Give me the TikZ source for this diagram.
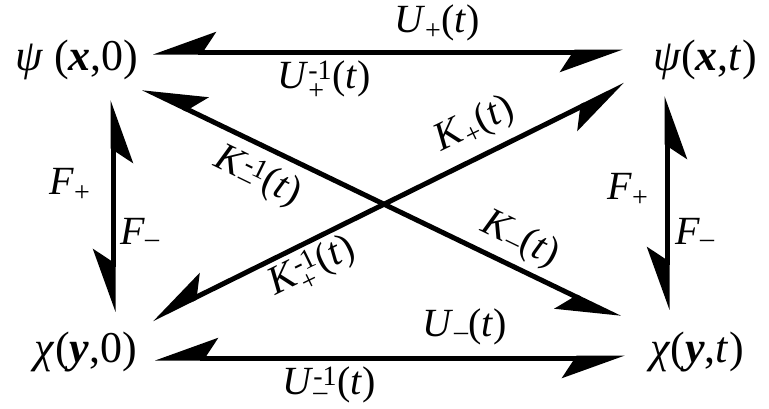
\documentclass[tikz,border=0pt]{standalone}
\usepackage{fontspec}
\usepackage{amsmath}
\setmainfont{Liberation Serif}
\usetikzlibrary{arrows.meta}
\newcommand{\bx}[1]{\textbf{\textit{#1}}}
\newcommand{\supsub}[2]{$^{\text{#1}}_{\text{#2}}$}
\begin{document}
\begin{tikzpicture}[x=1pt,y=-1pt,
  barb/.tip={Stealth[right,length=56pt,width=40pt,inset=13pt]},
  conn/.style={line width=5pt,barb-barb},
  corner/.style={font=\fontsize{44}{46}\selectfont, inner sep=0pt},
  lab/.style={font=\fontsize{40}{42}\selectfont, inner sep=0pt}]
\useasboundingbox (0,0) rectangle (769,408);
% corner nodes
\node[corner] (p0) at (77,60) {\textit{ψ} (\bx{x},0)};
\node[corner] (pt) at (705,60) {\textit{ψ}(\bx{x},\textit{t})};
\node[corner] (c0) at (86,352) {\textit{χ}(\bx{y},0)};
\node[corner] (ct) at (697,352) {\textit{χ}(\bx{y},\textit{t})};
% connector end points
\coordinate (p0r) at (153,52);  \coordinate (ptl) at (623,52);
\coordinate (c0r) at (155,358); \coordinate (ctl) at (625,358);
\coordinate (p0b) at (113,100); \coordinate (c0t) at (113,312);
\coordinate (ptb) at (667,96);  \coordinate (ctt) at (667,310);
\coordinate (p0d) at (143,88);  \coordinate (ctd) at (620,318);
\coordinate (c0d) at (152,319); \coordinate (ptd) at (625,85);
% connectors
\draw[conn] (p0r) -- (ptl);
\draw[conn] (c0r) -- (ctl);
\draw[conn] (p0b) -- (c0t);
\draw[conn] (ptb) -- (ctt);
\draw[conn] (p0d) -- (ctd);
\draw[conn] (c0d) -- (ptd);
% labels
\node[lab] (u1) at (437,23) {\textit{U}\textsubscript{+}(\textit{t})};
\node[lab] (u2) at (324,80) {\textit{U}\supsub{-1}{+}(\textit{t})};
\node[lab,rotate=26] (k1) at (475,125) {\textit{K}\textsubscript{+}(\textit{t})};
\node[lab,rotate=-26] (k2) at (258,177) {\textit{K}\supsub{-1}{–}(\textit{t})};
\node[lab,rotate=-26] (k3) at (520,240) {\textit{K}\textsubscript{–}(\textit{t})};
\node[lab,rotate=26] (k4) at (313,268) {\textit{K}\supsub{-1}{+}(\textit{t})};
\node[lab] (f1) at (70,185) {\textit{F}\textsubscript{+}};
\node[lab] (f2) at (140,233) {\textit{F}\textsubscript{–}};
\node[lab] (f3) at (628,190) {\textit{F}\textsubscript{+}};
\node[lab] (f4) at (695,233) {\textit{F}\textsubscript{–}};
\node[lab] (u3) at (465,327) {\textit{U}\textsubscript{–}(\textit{t})};
\node[lab] (u4) at (329,385) {\textit{U}\supsub{-1}{–}(\textit{t})};
\end{tikzpicture}
\end{document}
